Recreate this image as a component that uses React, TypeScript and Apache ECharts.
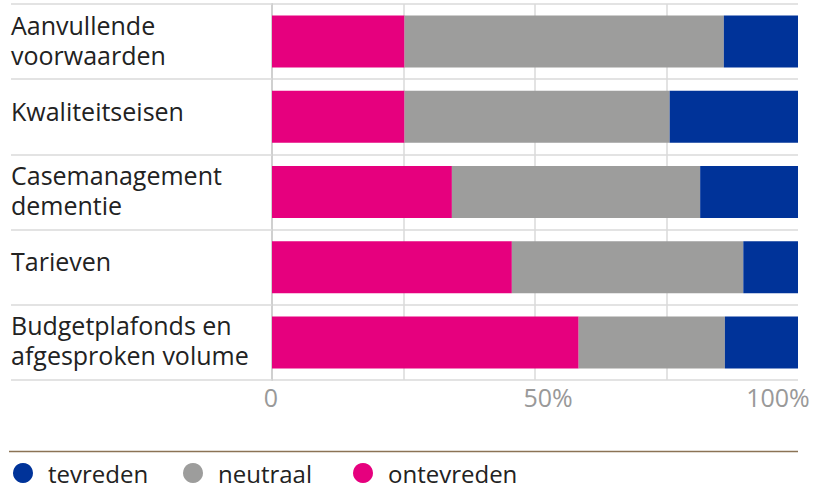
import React, { useEffect, useRef } from "react";
import * as echarts from "echarts";

const categories = [
  "Aanvullende\nvoorwaarden",
  "Kwaliteitseisen",
  "Casemanagement\ndementie",
  "Tarieven",
  "Budgetplafonds en\nafgesproken volume",
];
const ontevreden = [25.2, 25.2, 34.2, 45.6, 58.3];
const neutraal = [60.7, 50.4, 47.2, 44.0, 27.8];
const tevreden = [14.1, 24.4, 18.6, 10.4, 13.9];
const xTickLabels: Record<number, string> = { 0: "0", 50: "50%", 100: "100%" };

const FONT = "'Open Sans', 'Noto Sans', sans-serif";
const PINK = "#E6007E";
const GRAY = "#9D9D9C";
const BLUE = "#003399";

export default function App() {
  const ref = useRef<HTMLDivElement>(null);
  useEffect(() => {
    const chart = echarts.init(ref.current!, null, { renderer: "svg" });
    const legendCommon = {
      orient: "horizontal" as const,
      top: 456,
      icon: "circle",
      itemWidth: 40,
      itemHeight: 20,
      selectedMode: false,
      textStyle: { fontFamily: FONT, fontSize: 24, color: "#222" },
    };
    const axisLabelStyle = { fontFamily: FONT, fontSize: 25, color: "#999" };
    const catStyle = { fontFamily: FONT, fontSize: 25, lineHeight: 30, color: "#222" };
    chart.setOption({
      animation: false,
      grid: { left: 272, right: 18, top: 4, bottom: 104, containLabel: false },
      legend: [
        { ...legendCommon, left: 8, data: ["tevreden"] },
        { ...legendCommon, left: 178, data: ["neutraal"] },
        { ...legendCommon, left: 348, data: ["ontevreden"] },
      ],
      xAxis: {
        type: "value",
        min: 0,
        max: 100,
        interval: 25,
        axisLine: { show: false },
        axisTick: { show: false },
        splitLine: {
          show: true,
          showMinLine: false,
          showMaxLine: false,
          lineStyle: { color: "#dadada", width: 1.5 },
        },
        axisLabel: {
          margin: 4,
          ...axisLabelStyle,
          formatter: (v: number) => {
            const t = xTickLabels[v];
            if (t === undefined) return "";
            if (v === 0) return `{a|${t}}`;
            if (v === 100) return `{c|${t}}`;
            return `{b|${t}}`;
          },
          rich: {
            a: { ...axisLabelStyle, padding: [0, 2, 0, 0] },
            b: { ...axisLabelStyle, padding: [0, 0, 0, 26] },
            c: { ...axisLabelStyle, padding: [0, 40, 0, 0] },
          },
        },
      },
      yAxis: {
        type: "category",
        inverse: true,
        data: categories,
        axisLine: { show: true, lineStyle: { color: "#d0d0d0", width: 2 } },
        axisTick: {
          show: true,
          length: 261,
          lineStyle: { color: "#dadada", width: 1.5 },
        },
        splitLine: { show: true, lineStyle: { color: "#dadada", width: 1.5 } },
        axisLabel: {
          align: "left",
          margin: 261,
          ...catStyle,
          formatter: (v: string) => {
            const lines = v.split("\n");
            const key = lines.length > 1 ? "two" : "one";
            return lines.map((l) => `{${key}|${l}}`).join("\n");
          },
          rich: {
            one: { ...catStyle, padding: [0, 0, 12, 0] },
            two: { ...catStyle, padding: [0, 0, 4, 0] },
          },
        },
      },
      series: [
        { name: "ontevreden", type: "bar", stack: "t", data: ontevreden, barWidth: 52, itemStyle: { color: PINK } },
        { name: "neutraal", type: "bar", stack: "t", data: neutraal, barWidth: 52, itemStyle: { color: GRAY } },
        { name: "tevreden", type: "bar", stack: "t", data: tevreden, barWidth: 52, itemStyle: { color: BLUE } },
      ],
      graphic: [
        {
          type: "line",
          shape: { x1: 9, y1: 451.5, x2: 798, y2: 451.5 },
          style: { stroke: "#8B7355", lineWidth: 1.5 },
        },
      ],
    });
    return () => chart.dispose();
  }, []);
  return <div ref={ref} style={{ width: 816, height: 484, position: "absolute", left: 0, top: 0 }} />;
}
